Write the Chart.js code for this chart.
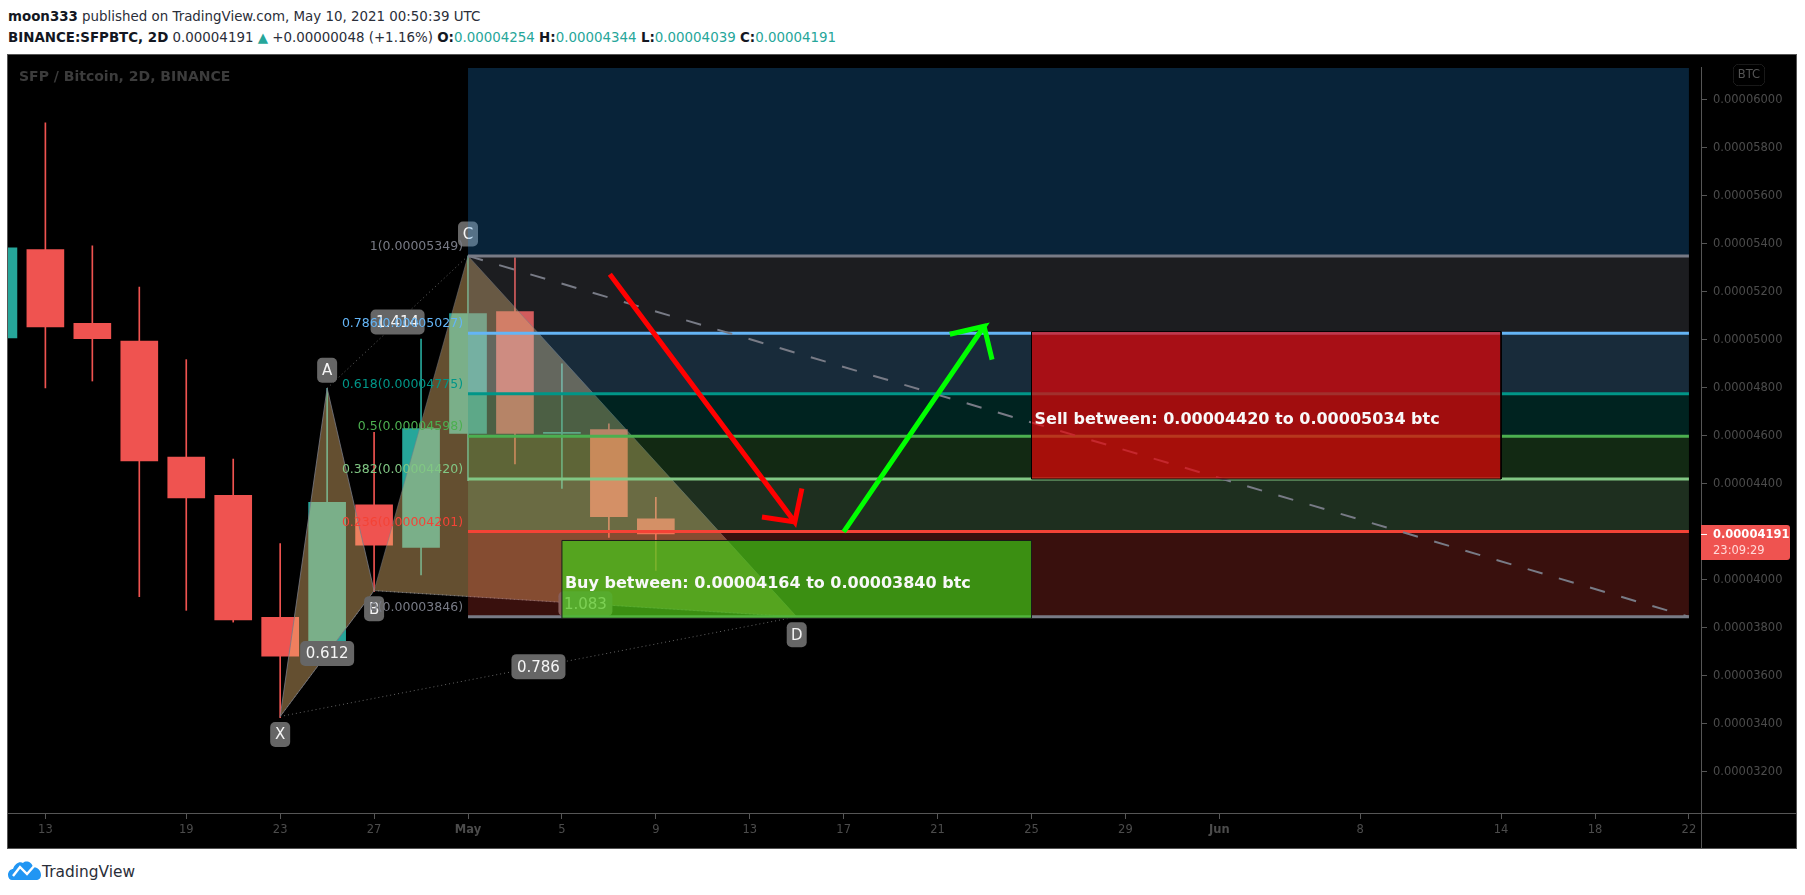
<!DOCTYPE html>
<html>
<head>
<meta charset="utf-8">
<title>SFP / Bitcoin, 2D, BINANCE</title>
<script src="https://cdn.jsdelivr.net/npm/chart.js@4"></script>
<style>
html, body { margin: 0; padding: 0; background: #fff; width: 1805px; height: 895px; overflow: hidden; font-family: "DejaVu Sans", sans-serif; color: #2a2e39; }
.row { position: absolute; left: 8px; white-space: nowrap; font-size: 13.4px; line-height: 20px; }
.row b { color: #131722; }
.up { color: #26a69a; }
#frame { position: absolute; left: 7px; top: 54px; width: 1788px; height: 793px; border: 1px solid #555; background: #000; }
#frame canvas { display: block; }
#logo { position: absolute; left: 8px; top: 860px; }
#logoText { position: absolute; left: 42px; top: 860px; font-size: 15.4px; line-height: 24px; color: #2a2e39; }
</style>
</head>
<body>
<div class="row" style="top:7px"><b>moon333</b> published on TradingView.com, May 10, 2021 00:50:39 UTC</div>
<div class="row" style="top:28px"><b>BINANCE:SFPBTC, 2D</b> 0.00004191 <span class="up">▲</span> +0.00000048 (+1.16%) <b>O:</b><span class="up">0.00004254</span> <b>H:</b><span class="up">0.00004344</span> <b>L:</b><span class="up">0.00004039</span> <b>C:</b><span class="up">0.00004191</span></div>
<div id="frame"><canvas id="chart" width="1788" height="793"></canvas></div>
<svg id="logo" width="33" height="20" viewBox="0 0 33 20">
  <path d="M0 15 C0 11 3 9 5 9 C7 3 12 1 15 3 C18 0 24 2 25 7 C30 7 33 11 33 15 C33 18 31 20 28 20 L4 20 C2 20 0 18 0 15 Z" fill="#2196f3"/>
  <path d="M5 16 L12 7 L19 14 L27 5" fill="none" stroke="#fff" stroke-width="2.4"/>
</svg>
<div id="logoText">TradingView</div>

<script>
'use strict';

// bars are counted from the May 1st candle, one bar = 2 days
var barIndex = [-10, -9, -8, -7, -6, -5, -4, -3, -2, -1, 0, 1, 2, 3, 4];
var opens  = [0.00005008, 0.00005375, 0.00005068, 0.00004994, 0.00004511, 0.00004352, 0.00003844, 0.00003742, 0.00004312, 0.00004135, 0.00004610, 0.00005117, 0.00004610, 0.00004626, 0.00004254];
var highs  = [0.00005383, 0.00005903, 0.00005391, 0.00005219, 0.00004917, 0.00004503, 0.00004151, 0.00004798, 0.00004614, 0.00005003, 0.00005349, 0.00005342, 0.00004900, 0.00004650, 0.00004344];
var lows   = [0.00005008, 0.00004799, 0.00004828, 0.00003930, 0.00003873, 0.00003824, 0.00003426, 0.00003742, 0.00003951, 0.00004021, 0.00004413, 0.00004483, 0.00004381, 0.00004177, 0.00004039];
var closes = [0.00005383, 0.00005053, 0.00005004, 0.00004495, 0.00004341, 0.00003833, 0.00003682, 0.00004323, 0.00004144, 0.00004630, 0.00005109, 0.00004610, 0.00004614, 0.00004263, 0.00004191];

var timeTickBars = [-9, -6, -4, -2, 0, 2, 4, 6, 8, 10, 12, 14, 16, 19, 22, 24, 26];
var timeTickLabels = ['13', '19', '23', '27', 'May', '5', '9', '13', '17', '21', '25', '29', 'Jun', '8', '14', '18', '22'];
var priceTicks = [0.00003200, 0.00003400, 0.00003600, 0.00003800, 0.00004000, 0.00004200, 0.00004400, 0.00004600, 0.00004800, 0.00005000, 0.00005200, 0.00005400, 0.00005600, 0.00005800, 0.00006000];

var fibBars = [0, 26];
var fibLevels = ['1.618', '1', '0.786', '0.618', '0.5', '0.382', '0.236', '0'];
var fibPrices = [0.00006278, 0.00005349, 0.00005027, 0.00004775, 0.00004598, 0.00004420, 0.00004201, 0.00003846];

var patternNames = ['X', 'A', 'B', 'C', 'D'];
var patternBars = [-4, -3, -2, 0, 7];
var patternPrices = [0.00003431, 0.00004798, 0.00003955, 0.00005349, 0.00003846];

var trendBars = [0, 26];
var trendPrices = [0.00005349, 0.00003846];

var sellBars = [12, 22];
var sellPrices = [0.00004420, 0.00005034];
var buyBars = [2, 12];
var buyPrices = [0.00003840, 0.00004164];

var redArrowBars = [3.02, 6.96, 7.11, 6.96, 6.26];
var redArrowPrices = [0.00005273, 0.00004241, 0.00004380, 0.00004241, 0.00004262];
var greenArrowBars = [8.0, 10.99, 10.26, 10.99, 11.16];
var greenArrowPrices = [0.00004200, 0.00005056, 0.00005023, 0.00005056, 0.00004917];

var lastPrice = 0.00004191;
var countdown = '23:09:29';

var RED = '#ef5350';
var TEAL = '#26a69a';
var GREY = '#787b86';
var fibLineColors = ['#2196f3', '#787b86', '#64b5f6', '#009688', '#4caf50', '#81c784', '#f44336', '#787b86'];
var fibFillColors = ['rgba(33,150,243,.235)', 'rgba(120,123,134,.235)', 'rgba(100,181,246,.235)', 'rgba(0,150,136,.235)', 'rgba(76,175,80,.235)', 'rgba(129,199,132,.235)', 'rgba(244,67,54,.235)'];
var LABEL_FONT = '"DejaVu Sans", sans-serif';

function pts(xs, ys) {
    return xs.map(function (x, i) { return { x: x, y: ys[i] }; });
}

function lineSet(name, xs, ys, color, width, extra) {
    return Object.assign({
        type: 'line',
        label: name,
        data: pts(xs, ys),
        borderColor: color,
        borderWidth: width,
        pointRadius: 0,
        tension: 0,
        fill: false,
        borderCapStyle: 'butt',
        borderJoinStyle: 'miter'
    }, extra || {});
}

function shapeSet(name, xs, ys, fillColor, borderColor, width) {
    var closedX = xs.concat([xs[0]]);
    var closedY = ys.concat([ys[0]]);
    return lineSet(name, closedX, closedY, borderColor, width, { fill: 'shape', backgroundColor: fillColor });
}

function pick(list, idx) {
    return idx.map(function (i) { return list[i]; });
}

var candleColors = barIndex.map(function (b, i) { return closes[i] >= opens[i] ? TEAL : RED; });

var datasets = [];

datasets.push({
    type: 'bar',
    label: 'wicks',
    data: barIndex.map(function (b, i) { return { x: b, y: [lows[i], highs[i]] }; }),
    backgroundColor: candleColors,
    barThickness: 1,
    grouped: false
});
datasets.push({
    type: 'bar',
    label: 'bodies',
    data: barIndex.map(function (b, i) { return { x: b, y: [opens[i], closes[i]] }; }),
    backgroundColor: candleColors,
    barThickness: 37,
    grouped: false
});

// dotted guides of the XABCD pattern
[[0, 2], [1, 3], [0, 4], [2, 4]].forEach(function (p) {
    datasets.push(lineSet('guide', pick(patternBars, p), pick(patternPrices, p), '#666', 1, { borderDash: [1, 3] }));
});
datasets.push(shapeSet('patternXAB', pick(patternBars, [0, 1, 2]), pick(patternPrices, [0, 1, 2]), 'rgba(238,188,114,.42)', 'rgba(120,123,134,.8)', 1));
datasets.push(shapeSet('patternBCD', pick(patternBars, [2, 3, 4]), pick(patternPrices, [2, 3, 4]), 'rgba(238,188,114,.42)', 'rgba(120,123,134,.5)', 1));

// fib bands, each filled down to the next level
fibPrices.forEach(function (price, i) {
    var extra = i < fibPrices.length - 1 ? { fill: { target: { value: fibPrices[i + 1] } }, backgroundColor: fibFillColors[i] } : {};
    datasets.push(lineSet('fib' + fibLevels[i], fibBars, [price, price], fibLineColors[i], 3, extra));
});
datasets[datasets.length - 1].label = 'fibLast';

datasets.push(lineSet('trend', trendBars, trendPrices, GREY, 2, { borderDash: [15.5, 17] }));

datasets.push(shapeSet('sell', [sellBars[0], sellBars[1], sellBars[1], sellBars[0]], [sellPrices[1], sellPrices[1], sellPrices[0], sellPrices[0]], 'rgba(230,4,7,.7)', '#000', 1));
datasets.push(shapeSet('buy', [buyBars[0], buyBars[1], buyBars[1], buyBars[0]], [buyPrices[1], buyPrices[1], buyPrices[0], buyPrices[0]], 'rgba(60,212,21,.65)', '#1a1a1a', 1));

datasets.push(lineSet('redArrow', redArrowBars, redArrowPrices, '#ff0000', 5));
datasets.push(lineSet('greenArrow', greenArrowBars, greenArrowPrices, '#00ff00', 5));

// paint in array order: first dataset at the bottom
datasets.forEach(function (d, i) { d.order = datasets.length - i; });

function badge(ctx, cx, cy, w, h, text) {
    ctx.fillStyle = '#666';
    ctx.beginPath();
    ctx.roundRect(cx - w / 2, cy - h / 2, w, h, 5);
    ctx.fill();
    ctx.fillStyle = '#f5f5f5';
    ctx.font = '15px ' + LABEL_FONT;
    ctx.textAlign = 'center';
    ctx.textBaseline = 'middle';
    ctx.fillText(text, cx, cy + 1);
}

function drawPatternLabels(chart) {
    var ctx = chart.ctx, xs = chart.scales.x, ys = chart.scales.y;
    function px(i) { return xs.getPixelForValue(patternBars[i]); }
    function py(i) { return ys.getPixelForValue(patternPrices[i]); }
    [[0, 2, '0.612'], [1, 3, '1.414'], [0, 4, '0.786'], [2, 4, '1.083']].forEach(function (r) {
        badge(ctx, (px(r[0]) + px(r[1])) / 2, (py(r[0]) + py(r[1])) / 2, 54, 25, r[2]);
    });
    var off = [18, -18, 18, -22, 18];
    patternNames.forEach(function (n, i) {
        badge(ctx, px(i), py(i) + off[i], 20, 25, n);
    });
}

function drawFibLabels(chart) {
    var ctx = chart.ctx, xs = chart.scales.x, ys = chart.scales.y;
    ctx.font = '12.5px ' + LABEL_FONT;
    ctx.textAlign = 'right';
    ctx.textBaseline = 'middle';
    fibLevels.forEach(function (lvl, i) {
        if (i === 0) return;
        ctx.fillStyle = fibLineColors[i];
        ctx.fillText(lvl + '(' + fibPrices[i].toFixed(8) + ')', xs.getPixelForValue(fibBars[0]) - 5, ys.getPixelForValue(fibPrices[i]) - 9);
    });
}

function drawRectText(chart, text, bar, price) {
    var ctx = chart.ctx;
    ctx.font = 'bold 16px ' + LABEL_FONT;
    ctx.fillStyle = '#f8f8f8';
    ctx.textAlign = 'left';
    ctx.textBaseline = 'middle';
    ctx.fillText(text, chart.scales.x.getPixelForValue(bar) + 3, chart.scales.y.getPixelForValue(price));
}

var overlayPlugin = {
    id: 'overlay',
    beforeDatasetsDraw: function (chart) {
        var ctx = chart.ctx;
        ctx.save();
        ctx.font = 'bold 14px ' + LABEL_FONT;
        ctx.fillStyle = '#3c3c3c';
        ctx.textAlign = 'left';
        ctx.textBaseline = 'middle';
        ctx.fillText('SFP / Bitcoin, 2D, BINANCE', 11, 22);
        ctx.restore();
    },
    afterDatasetDraw: function (chart, args) {
        var name = chart.data.datasets[args.index].label;
        var ctx = chart.ctx;
        ctx.save();
        if (name === 'patternBCD') drawPatternLabels(chart);
        if (name === 'fibLast') drawFibLabels(chart);
        if (name === 'sell') drawRectText(chart, 'Sell between: 0.00004420 to 0.00005034 btc', sellBars[0], 0.00004665);
        if (name === 'buy') drawRectText(chart, 'Buy between: 0.00004164 to 0.00003840 btc', buyBars[0], 0.00003985);
        ctx.restore();
    },
    afterDraw: function (chart) {
        var ctx = chart.ctx, a = chart.chartArea, ys = chart.scales.y;
        ctx.save();
        // axis lines run to the edge of the frame
        ctx.fillStyle = '#555';
        ctx.fillRect(a.right, a.top, 1, chart.height);
        ctx.fillRect(a.left, a.bottom, chart.width, 1);

        // BTC currency box
        ctx.strokeStyle = '#333';
        ctx.lineWidth = 1;
        ctx.beginPath();
        ctx.roundRect(a.right + 32.5, 9.5, 31, 21, 5);
        ctx.stroke();
        ctx.fillStyle = '#000';
        ctx.fill();
        ctx.fillStyle = '#555';
        ctx.font = '11.5px ' + LABEL_FONT;
        ctx.textAlign = 'center';
        ctx.textBaseline = 'middle';
        ctx.fillText('BTC', a.right + 48, 20);

        // last price tag
        var y = ys.getPixelForValue(lastPrice);
        ctx.fillStyle = RED;
        ctx.beginPath();
        ctx.roundRect(a.right, y - 9, 89, 35, [0, 3, 3, 0]);
        ctx.fill();
        ctx.fillStyle = '#fff';
        ctx.fillRect(a.right, y, 6, 1);
        ctx.textAlign = 'left';
        ctx.font = 'bold 11.5px ' + LABEL_FONT;
        ctx.fillText(lastPrice.toFixed(8), a.right + 12, y + 1);
        ctx.fillStyle = '#ffd9d8';
        ctx.font = '11.5px ' + LABEL_FONT;
        ctx.fillText(countdown, a.right + 12, y + 17);
        ctx.restore();
    }
};

new Chart(document.getElementById('chart'), {
    data: { datasets: datasets },
    plugins: [overlayPlugin],
    options: {
        responsive: false,
        animation: false,
        events: [],
        layout: { padding: 0, autoPadding: false },
        plugins: { legend: { display: false }, tooltip: { enabled: false } },
        scales: {
            x: {
                type: 'linear',
                position: 'bottom',
                offset: false,
                min: -9.796,
                max: 26.257,
                afterBuildTicks: function (scale) {
                    scale.ticks = timeTickBars.map(function (v) { return { value: v }; });
                },
                afterFit: function (scale) { scale.height = 35; },
                grid: { display: true, drawOnChartArea: false, drawTicks: true, tickLength: 6, color: '#555', offset: false },
                border: { color: '#555' },
                ticks: {
                    autoSkip: false,
                    maxRotation: 0,
                    padding: 4,
                    color: '#4c4c4c',
                    font: function (c) {
                        var lab = timeTickLabels[c.index];
                        return { family: LABEL_FONT, size: 11.5, weight: (lab === 'May' || lab === 'Jun') ? 'bold' : 'normal' };
                    },
                    callback: function (v) { return timeTickLabels[timeTickBars.indexOf(v)]; }
                }
            },
            y: {
                type: 'linear',
                position: 'right',
                min: 0.00003029,
                max: 0.00006132,
                afterBuildTicks: function (scale) {
                    scale.ticks = priceTicks.map(function (v) { return { value: v }; });
                },
                afterFit: function (scale) { scale.width = 95; },
                grid: { display: true, drawOnChartArea: false, drawTicks: true, tickLength: 6, color: '#555' },
                border: { color: '#555' },
                ticks: {
                    autoSkip: false,
                    padding: 6,
                    color: '#4c4c4c',
                    font: { family: LABEL_FONT, size: 11.5 },
                    callback: function (v) { return v.toFixed(8); }
                }
            }
        }
    }
});
</script>
</body>
</html>
